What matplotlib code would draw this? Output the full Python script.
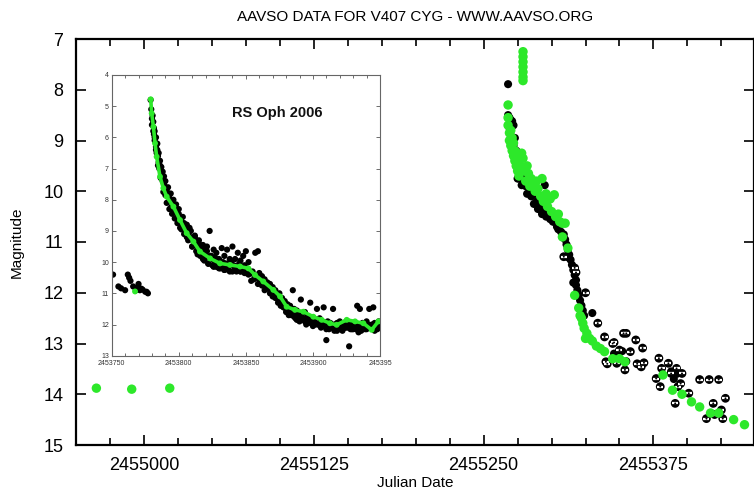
import matplotlib
matplotlib.use("Agg")
import matplotlib.pyplot as plt
from matplotlib.ticker import MultipleLocator, FixedLocator

plt.rcParams['font.family'] = ['Liberation Sans', 'DejaVu Sans']

GREEN = '#2de82a'

# ---------------- main chart data (V407 Cyg) ----------------
# early quiescent green points
pre_jd = [2454965, 2454991, 2455019]
pre_mag = [13.88, 13.9, 13.88]

# black filled observations
blk_jd = [2455268, 2455268, 2455269, 2455270, 2455271, 2455272, 2455269, 2455270, 2455271,
          2455273, 2455272, 2455274, 2455273, 2455275, 2455276, 2455277, 2455275, 2455278,
          2455279, 2455280, 2455281, 2455283, 2455284, 2455286, 2455285, 2455288, 2455289,
          2455291, 2455292, 2455294, 2455295, 2455297, 2455298, 2455300, 2455301, 2455303,
          2455304, 2455306, 2455307, 2455309, 2455310, 2455311, 2455312, 2455313, 2455314,
          2455315, 2455316, 2455317, 2455318, 2455318, 2455319, 2455320, 2455321, 2455322,
          2455323, 2455324, 2455278, 2455295, 2455330, 2455346, 2455349, 2455352, 2455355,
          2455388, 2455390, 2455392, 2455305, 2455308, 2455302, 2455299, 2455293, 2455287,
          2455282, 2455276, 2455290, 2455296, 2455312, 2455316]
blk_mag = [7.89, 8.5, 8.55, 8.6, 8.62, 8.7, 8.75, 8.9, 9.0,
           8.95, 9.1, 9.2, 9.35, 9.3, 9.45, 9.6, 9.75, 9.55,
           9.7, 9.8, 9.9, 9.85, 10.0, 9.95, 10.1, 10.05, 10.2,
           10.15, 10.3, 10.25, 10.4, 10.35, 10.5, 10.45, 10.6, 10.55,
           10.7, 10.65, 10.8, 10.85, 10.95, 11.05, 11.15, 11.25, 11.35,
           11.45, 11.55, 11.65, 11.75, 11.85, 11.95, 12.05, 12.15, 12.25,
           12.35, 12.45, 9.88, 9.88, 12.4, 13.2, 13.3, 13.15, 13.35,
           13.55, 13.7, 13.6, 10.75, 10.9, 10.6, 10.55, 10.45, 10.25,
           10.05, 9.75, 10.35, 10.5, 11.3, 11.8]

# black open (fainter-than / CCD) observations
opn_jd = [2455309, 2455317, 2455318, 2455325, 2455334, 2455339, 2455340, 2455341, 2455345,
          2455346, 2455350, 2455353, 2455355, 2455358, 2455362, 2455363, 2455367, 2455368,
          2455348, 2455354, 2455366, 2455379, 2455377, 2455381, 2455380, 2455386, 2455388,
          2455392, 2455396, 2455391, 2455395, 2455401, 2455409, 2455416, 2455423, 2455419,
          2455414, 2455425, 2455428, 2455426, 2455420, 2455393]
opn_mag = [11.29, 11.51, 11.6, 12.0, 12.6, 12.87, 13.36, 13.4, 13.0,
           12.98, 13.13, 12.8, 12.8, 13.16, 12.93, 13.4, 13.09, 13.38,
           13.39, 13.52, 13.46, 13.29, 13.69, 13.49, 13.85, 13.39, 13.59,
           13.49, 13.59, 14.18, 13.79, 13.98, 13.71, 13.71, 13.71, 14.18,
           14.48, 14.31, 14.08, 14.48, 14.4, 13.85]

# green observations
grn_jd = [2455268, 2455279, 2455279, 2455279, 2455279, 2455279, 2455279, 2455279,
          2455268, 2455268, 2455269, 2455269, 2455270, 2455270, 2455271, 2455271, 2455272,
          2455272, 2455273, 2455273, 2455274, 2455274, 2455275, 2455276, 2455276, 2455277,
          2455278, 2455279, 2455280, 2455281, 2455282, 2455283, 2455284, 2455285, 2455287,
          2455288, 2455289, 2455290, 2455292, 2455293, 2455294, 2455296, 2455297, 2455299,
          2455300, 2455302, 2455303, 2455305, 2455306, 2455308, 2455308, 2455310, 2455312,
          2455317, 2455320, 2455321, 2455322, 2455323, 2455324, 2455325, 2455326, 2455328,
          2455330, 2455333, 2455336, 2455339, 2455345, 2455350, 2455354, 2455382, 2455389,
          2455396, 2455403, 2455409, 2455417, 2455423, 2455434, 2455442]
grn_mag = [8.3, 7.25, 7.35, 7.45, 7.55, 7.65, 7.75, 7.82,
           8.55, 8.7, 8.85, 9.0, 8.8, 9.1, 9.2, 8.95, 9.3,
           9.05, 9.4, 9.2, 9.5, 9.3, 9.6, 9.4, 9.7, 9.5,
           9.25, 9.35, 9.6, 9.8, 9.5, 9.65, 9.9, 9.75, 9.85,
           10.0, 9.8, 9.95, 10.1, 9.75, 10.2, 10.05, 10.3, 10.15,
           10.4, 10.07, 10.5, 10.45, 10.6, 10.63, 10.9, 10.63, 11.12,
           12.05, 12.3, 12.45, 12.5, 12.6, 12.7, 12.9, 12.8, 12.9,
           12.95, 13.05, 13.1, 13.16, 13.3, 13.3, 13.36, 13.62, 13.92,
           14.0, 14.15, 14.25, 14.37, 14.37, 14.5, 14.6]

main_xticks = [2455000, 2455125, 2455250, 2455375]
main_yticks = [7, 8, 9, 10, 11, 12, 13, 14, 15]

# ---------------- inset data (RS Oph 2006) ----------------
rs_blk_d = [1, 5, 7, 10, 12, 14, 16, 18, 19, 21, 23, 25, 27, 20,
            29, 29.5, 30, 30, 31, 31.5, 32, 32.5, 33, 34, 33.5, 34.5, 35, 36, 35.5, 37, 37.5,
            38, 39, 40, 41, 42, 43, 44, 45, 46, 47, 48, 49, 50, 51, 52, 53, 54, 55, 56,
            57, 58, 59, 60, 61, 62, 63, 64, 65, 66, 67, 68, 69, 70, 71, 72, 73, 74, 75,
            76, 77, 78, 79, 80, 81, 82, 83, 84, 85, 86, 87, 88, 89, 90, 91, 92, 93, 94,
            95, 96, 97, 98, 99, 100, 101, 102, 103, 104, 105, 106, 107, 109, 108, 110,
            111, 112, 113, 114, 115, 116, 117, 118, 119, 120, 121, 122, 123, 124, 125,
            126, 127, 128, 129, 130, 131, 132, 133, 134, 135, 136, 137, 138, 139, 140,
            141, 142, 143, 144, 145, 146, 147, 148, 149, 150, 151, 152, 153, 154, 155,
            156, 157, 158, 159, 160, 161, 162, 163, 164, 165, 166, 167, 168, 169, 170,
            171, 172, 173, 174, 175, 176, 177, 178, 179, 180, 181, 182, 183, 184, 185,
            186, 187, 188, 189, 190, 191, 192, 193, 194, 195, 196, 197, 198, 199, 200,
            32, 36, 40, 44, 48, 52, 56, 60, 64, 68, 72, 76, 80, 84, 88, 92, 96, 100,
            112, 118, 124, 130, 136, 142, 148, 154, 160, 166, 172, 178, 184, 190, 196,
            31, 32, 33, 34, 35, 36, 37, 38, 39, 40, 42, 44, 46, 48, 50, 53, 56, 59, 62,
            65, 68, 71, 74, 77, 80, 83, 86, 89, 92, 95, 98, 101, 104, 107, 110, 113,
            116, 119, 122, 125, 128, 131, 134, 137, 140, 143, 146, 149, 152, 155, 158,
            161, 164, 167, 170, 173, 176, 179, 182, 185, 188, 191, 194, 197, 199,
            30.5, 31.5, 33, 34.5, 36.5, 38.5, 41, 43, 45, 47, 49, 51, 54, 57, 60, 63, 66,
            69, 72, 75, 78, 81, 84, 87, 90, 93, 96, 99, 102, 106, 109, 114, 120, 126,
            132, 138, 144, 150, 156, 162, 168, 174, 180, 186, 192, 198, 13, 22, 26]
rs_blk_mag = [10.4, 10.78, 10.84, 10.9, 10.4, 10.6, 10.78, 10.9, 10.83, 10.9, 10.88, 10.95, 11.0, 10.7,
              4.8, 5.1, 5.4, 5.6, 5.8, 5.9, 6.1, 6.0, 6.3, 6.2, 6.5, 6.6, 6.8, 6.9, 7.0, 7.1, 7.3,
              7.4, 7.5, 7.6, 7.7, 7.9, 7.85, 8.0, 8.1, 8.2, 8.3, 8.35, 8.5, 8.45, 8.6, 8.7, 8.8, 8.75, 8.95, 9.0,
              9.1, 8.9, 9.2, 9.25, 9.35, 9.15, 9.4, 9.5, 9.3, 9.55, 9.6, 9.45, 9.7, 9.75, 9.5, 9.85, 9.0, 9.8, 9.9,
              9.6, 10.0, 9.7, 10.1, 9.9, 10.0, 9.55, 10.1, 9.8, 10.05, 9.6, 10.15, 9.9, 10.0, 9.5, 10.1, 9.9, 10.2, 9.7,
              10.05, 9.95, 10.2, 9.8, 10.1, 9.65, 10.2, 10.0, 10.3, 10.6, 10.3, 10.4, 9.7, 9.65, 10.5, 10.35,
              10.6, 10.45, 10.7, 10.55, 10.75, 10.65, 10.85, 10.7, 10.95, 10.8, 11.0, 10.9, 11.1, 11.2, 11.0,
              11.3, 11.15, 11.4, 11.25, 11.5, 11.35, 11.6, 11.4, 11.7, 10.9, 11.5, 11.8, 11.55, 11.7, 11.9,
              11.2, 11.65, 11.85, 11.6, 12.0, 11.75, 11.9, 11.3, 11.8, 12.05, 11.85, 11.95, 11.5, 12.0, 11.8,
              12.1, 11.9, 11.45, 12.0, 12.5, 11.9, 12.1, 11.95, 12.05, 11.5, 12.0, 12.15, 11.95, 12.05, 11.9,
              12.1, 12.0, 11.95, 12.1, 12.05, 11.9, 12.7, 12.0, 12.1, 11.95, 12.05, 12.15, 11.4, 12.0, 11.5,
              12.1, 11.95, 12.05, 12.15, 11.9, 12.0, 11.5, 12.1, 12.05, 11.45, 11.95, 12.1, 12.0, 11.9, 12.05,
              6.0, 7.0, 7.85, 8.25, 8.6, 8.95, 9.2, 9.5, 9.75, 9.9, 10.05, 10.15, 10.2, 10.25, 10.3, 10.2, 10.3, 10.35,
              10.75, 11.0, 11.3, 11.6, 11.75, 11.8, 11.95, 12.0, 12.15, 12.2, 12.2, 12.15, 12.25, 12.15, 12.2,
              5.5, 5.8, 6.0, 6.4, 6.5, 6.75, 6.95, 7.1, 7.25, 7.4, 7.6, 7.8, 8.0, 8.15, 8.3, 8.55, 8.8, 9.0, 9.2,
              9.4, 9.55, 9.65, 9.8, 9.85, 9.95, 10.0, 10.05, 10.1, 10.15, 10.15, 10.2, 10.25, 10.35, 10.45, 10.55, 10.7,
              10.85, 11.0, 11.15, 11.3, 11.45, 11.55, 11.65, 11.7, 11.75, 11.8, 11.9, 11.95, 12.0, 12.0, 12.05,
              12.1, 12.1, 12.05, 12.1, 12.05, 12.1, 12.15, 12.05, 12.1, 12.05, 12.1, 12.0, 12.1, 12.0,
              5.3, 5.7, 6.4, 6.9, 7.3, 7.75, 8.1, 8.3, 8.45, 8.6, 8.75, 8.9, 9.1, 9.3, 9.5, 9.65, 9.8,
              9.95, 10.05, 10.1, 10.15, 10.2, 10.25, 10.25, 10.3, 10.3, 10.3, 10.35, 10.4, 10.55, 10.7, 10.9, 11.1, 11.4,
              11.7, 11.85, 11.9, 12.0, 12.05, 12.15, 12.2, 12.1, 12.15, 12.2, 12.1, 12.15, 10.5, 10.85, 10.95]

rs_grn_d = [17.4, 29.1, 29.8, 31.1, 32.3, 33.5, 36.0, 38.5, 41.0, 46.0, 50.9, 55.9, 60.9, 65.8,
            73.3, 80.7, 88.2, 95.7, 101.9, 106.8, 113.0, 120.5, 125.5, 130.4, 136.6, 142.9,
            150.3, 156.5, 162.7, 167.7, 175.2, 181.4, 187.6, 193.8, 198.8]
rs_grn_mag = [10.94, 4.78, 5.23, 5.66, 6.19, 6.62, 7.26, 7.63, 7.9, 8.22, 8.65, 9.07, 9.34, 9.66,
              9.88, 10.04, 10.09, 10.14, 10.2, 10.41, 10.62, 10.89, 11.1, 11.43, 11.53, 11.59,
              11.75, 11.85, 11.96, 12.01, 11.85, 11.9, 11.96, 12.17, 11.9]
rs_base = 2453750
rs_xticks = [2453750, 2453800, 2453850, 2453900, 2453950]
rs_xticklabels = ['2453750', '2453800', '2453850', '2453900', '245395']
rs_yticks = [4, 5, 6, 7, 8, 9, 10, 11, 12, 13]

# ---------------- figure ----------------
fig = plt.figure(figsize=(7.54, 4.92), dpi=100)
ax = fig.add_axes([76 / 754, 1 - 445 / 492, 678 / 754, 406 / 492])

ax.scatter(blk_jd, blk_mag, s=34, c='black', edgecolors='none', zorder=2)
ax.scatter(opn_jd, opn_mag, s=40, c='black', edgecolors='none', zorder=2)
ax.scatter(opn_jd, opn_mag, s=14, c='white', marker='_', linewidths=1.6, zorder=2.1)
ax.scatter(opn_jd, opn_mag, s=2, c='black', edgecolors='none', zorder=2.2)
ax.scatter(grn_jd, grn_mag, s=46, c=GREEN, edgecolors='none', zorder=3)
ax.scatter(pre_jd, pre_mag, s=46, c=GREEN, edgecolors='none', zorder=3)

ax.set_xlim(2454950, 2455449)
ax.set_ylim(15, 7)
ax.xaxis.set_major_locator(FixedLocator(main_xticks))
ax.xaxis.set_minor_locator(MultipleLocator(25))
ax.yaxis.set_major_locator(FixedLocator(main_yticks))
ax.set_xticklabels([str(v) for v in main_xticks])
ax.tick_params(which='both', direction='in', top=True, right=True, width=1.2, colors='black')
ax.tick_params(which='major', length=7, labelsize=13, pad=9)
ax.tick_params(which='minor', length=5)
for s in ax.spines.values():
    s.set_linewidth(1.6)
ax.set_xlabel('Julian Date', fontsize=11, labelpad=1)
ax.set_ylabel('Magnitude', fontsize=11, labelpad=14)
ax.set_title('AAVSO DATA FOR V407 CYG - WWW.AAVSO.ORG', fontsize=11, pad=13)

# ---------------- inset ----------------
ins = fig.add_axes([111.7 / 754, 1 - 355.7 / 492, 268.3 / 754, 280.7 / 492], zorder=5)
ins.set_facecolor('white')
ins.scatter([rs_base + d for d in rs_blk_d], rs_blk_mag, s=20, c='black', edgecolors='none', zorder=2)
ins.plot([rs_base + d for d in rs_grn_d[1:]], rs_grn_mag[1:], color=GREEN, lw=2.6,
         solid_capstyle='round', zorder=3)
ins.scatter([rs_base + d for d in rs_grn_d], rs_grn_mag, s=18, c=GREEN, edgecolors='none', zorder=3)
ins.set_xlim(2453750, 2453950)
ins.set_ylim(13, 4)
ins.xaxis.set_major_locator(FixedLocator(rs_xticks))
ins.set_xticklabels(rs_xticklabels)
ins.xaxis.set_minor_locator(MultipleLocator(10))
ins.yaxis.set_major_locator(FixedLocator(rs_yticks))
ins.tick_params(which='both', direction='in', top=True, right=True, width=0.6,
                colors='#555555', labelsize=5, labelcolor='#333333')
ins.tick_params(axis='x', pad=3)
ins.tick_params(axis='y', pad=2)
ins.tick_params(which='major', length=3)
ins.tick_params(which='minor', length=2)
for s in ins.spines.values():
    s.set_linewidth(0.8)
    s.set_color('#666666')
ins.text(0.616, 0.865, 'RS Oph 2006', transform=ins.transAxes, ha='center', va='center',
         fontsize=10.5, fontweight='bold', color='#111111')

fig.savefig('out.png', dpi=100)
